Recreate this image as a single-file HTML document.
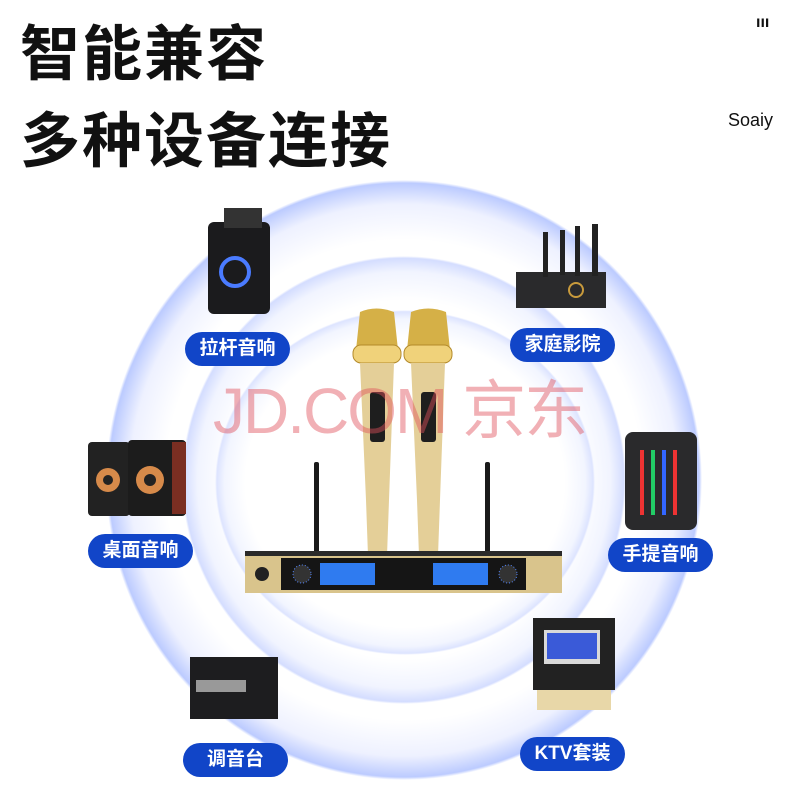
<!DOCTYPE html>
<html><head><meta charset="utf-8"><style>
body{margin:0;width:800px;height:800px;background:#fff;position:relative;overflow:hidden;font-family:"Liberation Sans","Noto Sans CJK SC",sans-serif}
.a{position:absolute}
.pill{position:absolute;background:#1145c8;color:#fff;border-radius:18px;font-weight:bold;font-size:19px;text-align:center;line-height:34px;height:34px;width:105px;font-family:"Liberation Sans","Noto Sans CJK SC",sans-serif}
.ring{position:absolute;border-radius:50%}
</style></head><body>
<div class="a" style="left:20px;top:12px;font-size:60px;font-weight:bold;color:#111;letter-spacing:2px;font-family:'Noto Sans CJK SC',sans-serif;line-height:76px">智能兼容</div>
<div class="a" style="left:20px;top:99px;font-size:60px;font-weight:bold;color:#111;letter-spacing:2px;font-family:'Noto Sans CJK SC',sans-serif;line-height:76px">多种设备连接</div>
<div class="a" style="left:756px;top:14px;font-size:16px;font-weight:bold;color:#111">ııı</div>
<div class="a" style="left:728px;top:110px;font-size:18px;color:#111">Soaiy</div>

<div class="ring" style="left:106px;top:180px;width:596px;height:600px;background:radial-gradient(closest-side,#fff 80%,#eef1ff 92%,#bccbff 99%,#fff 100%)"></div>
<div class="ring" style="left:182px;top:256px;width:444px;height:448px;background:radial-gradient(closest-side,#fff 80%,#f1f4ff 93%,#d4ddff 99%,rgba(255,255,255,0) 100%)"></div>
<div class="ring" style="left:215px;top:310px;width:380px;height:345px;background:radial-gradient(closest-side,#fff 84%,#f2f5ff 95%,#dde4ff 99%,rgba(255,255,255,0) 100%)"></div>

<svg class="a" style="left:0;top:0" width="800" height="800">
<rect x="208" y="222" width="62" height="92" rx="6" fill="#1b1b1d"/>
<rect x="224" y="208" width="38" height="20" fill="#333"/>
<circle cx="235" cy="272" r="14" fill="none" stroke="#4a7bff" stroke-width="4"/>
<rect x="516" y="272" width="90" height="36" fill="#2a2a2c"/>
<rect x="543" y="232" width="5" height="45" fill="#222"/><rect x="560" y="230" width="5" height="45" fill="#222"/><rect x="575" y="226" width="5" height="50" fill="#222"/><rect x="592" y="224" width="6" height="52" fill="#222"/>
<circle cx="576" cy="290" r="7" fill="none" stroke="#c89a3c" stroke-width="2"/>
<rect x="88" y="442" width="42" height="74" rx="4" fill="#222"/>
<rect x="128" y="440" width="58" height="76" rx="4" fill="#1c1c1c"/>
<rect x="172" y="442" width="14" height="72" fill="#7a2e22"/>
<circle cx="108" cy="480" r="12" fill="#d68a4a"/><circle cx="150" cy="480" r="14" fill="#d68a4a"/>
<circle cx="108" cy="480" r="5" fill="#222"/><circle cx="150" cy="480" r="6" fill="#222"/>
<rect x="625" y="432" width="72" height="98" rx="8" fill="#2a2a2c"/>
<g fill="#e33"><rect x="640" y="450" width="4" height="65"/><rect x="651" y="450" width="4" height="65" fill="#2c6"/><rect x="662" y="450" width="4" height="65" fill="#36f"/><rect x="673" y="450" width="4" height="65"/></g>
<rect x="190" y="657" width="88" height="62" fill="#1d1d1f"/>
<rect x="196" y="680" width="50" height="12" fill="#999"/>
<rect x="533" y="618" width="82" height="72" fill="#222"/>
<rect x="544" y="630" width="56" height="34" fill="#d9d9d9"/>
<rect x="547" y="633" width="50" height="26" fill="#3a5ad8"/>
<rect x="537" y="690" width="74" height="20" fill="#e8d7a8"/>
<rect x="314" y="462" width="5" height="92" rx="2" fill="#1a1a1a"/>
<rect x="485" y="462" width="5" height="92" rx="2" fill="#1a1a1a"/>
<g>
<path d="M360 312 Q376 305 394 312 L398 350 L356 350 Z" fill="#d5b047"/>
<rect x="353" y="345" width="48" height="18" rx="8" fill="#f0d27a" stroke="#b38a2a"/>
<path d="M360 363 L394 363 L389 500 L387 556 L368 556 L366 500 Z" fill="#e4cf98"/>
<rect x="370" y="392" width="15" height="50" rx="3" fill="#1e1e1e"/>
</g>
<g>
<path d="M411 312 Q428 305 446 312 L450 350 L407 350 Z" fill="#d5b047"/>
<rect x="404" y="345" width="48" height="18" rx="8" fill="#f0d27a" stroke="#b38a2a"/>
<path d="M411 363 L445 363 L440 500 L438 556 L419 556 L417 500 Z" fill="#e4cf98"/>
<rect x="421" y="392" width="15" height="50" rx="3" fill="#1e1e1e"/>
</g>
<rect x="245" y="553" width="317" height="40" fill="#d9c48c"/>
<rect x="245" y="551" width="317" height="5" fill="#2a2a2a"/>
<rect x="281" y="558" width="245" height="32" fill="#151515"/>
<rect x="320" y="563" width="55" height="22" fill="#2f7bf0"/>
<rect x="433" y="563" width="55" height="22" fill="#2f7bf0"/>
<circle cx="302" cy="574" r="9" fill="#333" stroke="#58f" stroke-dasharray="1 2"/>
<circle cx="508" cy="574" r="9" fill="#333" stroke="#58f" stroke-dasharray="1 2"/>
<circle cx="262" cy="574" r="7" fill="#222"/>
</svg>
<div class="a" style="left:213px;top:360px;font-size:64px;color:rgba(225,80,90,0.45);font-family:'Liberation Sans','Noto Sans CJK SC',sans-serif;letter-spacing:-2px">JD.COM 京东</div>

<div class="pill" style="left:185px;top:332px">拉杆音响</div>
<div class="pill" style="left:510px;top:328px">家庭影院</div>
<div class="pill" style="left:88px;top:534px">桌面音响</div>
<div class="pill" style="left:608px;top:538px">手提音响</div>
<div class="pill" style="left:183px;top:743px">调音台</div>
<div class="pill" style="left:520px;top:737px">KTV套装</div>
</body></html>
